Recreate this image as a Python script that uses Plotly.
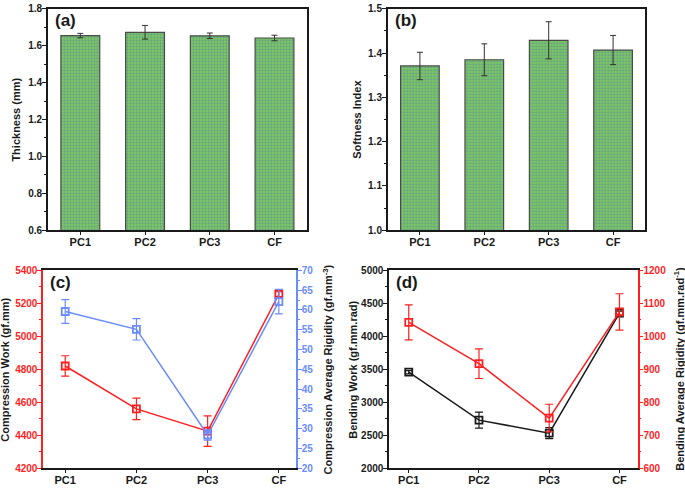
import plotly.graph_objects as go

samples = ['PC1', 'PC2', 'PC3', 'CF']

thickness = [1.655, 1.673, 1.654, 1.642]
thickness_err = [0.012, 0.037, 0.015, 0.015]

softness = [1.371, 1.385, 1.429, 1.407]
softness_err = [0.031, 0.036, 0.042, 0.033]

comp_work = [4820, 4560, 4425, 5255]
comp_work_err = [62, 65, 92, 15]
comp_rigidity = [59.6, 55.1, 28.4, 62.1]
comp_rigidity_err = [3.0, 2.7, 1.3, 3.1]

bend_work = [3456, 2729, 2532, 4351]
bend_work_err = [25, 122, 83, 30]
bend_rigidity = [1042, 917, 752, 1074]
bend_rigidity_err = [53, 45, 42, 55]

RED = '#ff1f1f'
BLUE = '#6b8cff'
BLACK = '#1a1a1a'
FONT = 'Liberation Sans'

fig = go.Figure()

bar_style = dict(
    marker=dict(color='#7cc85e', line=dict(color='#4a4a4a', width=1.2),
                pattern=dict(shape='.', fgcolor='#4466cc', size=3, solidity=0.35)),
    width=0.6,
)
fig.add_trace(go.Bar(x=samples, y=thickness, xaxis='x', yaxis='y',
                     error_y=dict(array=thickness_err, color='#333', thickness=1, width=3),
                     **bar_style))
fig.add_trace(go.Bar(x=samples, y=softness, xaxis='x2', yaxis='y2',
                     error_y=dict(array=softness_err, color='#333', thickness=1, width=3),
                     **bar_style))


def line_trace(y, err, color, xa, ya):
    return go.Scatter(x=samples, y=y, xaxis=xa, yaxis=ya, mode='lines+markers',
                      line=dict(color=color, width=1.5),
                      marker=dict(symbol='square-open', size=7, color=color, line=dict(width=1.8)),
                      error_y=dict(array=err, color=color, thickness=1.2, width=4))


fig.add_trace(line_trace(comp_work, comp_work_err, RED, 'x3', 'y3'))
fig.add_trace(line_trace(comp_rigidity, comp_rigidity_err, BLUE, 'x3', 'y5'))
fig.add_trace(line_trace(bend_work, bend_work_err, BLACK, 'x4', 'y4'))
fig.add_trace(line_trace(bend_rigidity, bend_rigidity_err, RED, 'x4', 'y6'))


def xax(domain, anchor, rng=None):
    d = dict(domain=domain, anchor=anchor, showline=True, linecolor=BLACK, linewidth=1.5,
             mirror=True, ticks='outside', ticklen=3, tickcolor=BLACK, ticklabelstandoff=-2,
             tickfont=dict(family=FONT, size=11, color=BLACK, weight='bold'),
             showgrid=False, zeroline=False)
    if rng:
        d['range'] = rng
    return d


def yax(domain, anchor, rng, dtick, color=BLACK, side='left', overlay=None, mirror=False):
    d = dict(domain=domain, anchor=anchor, range=rng, dtick=dtick, side=side,
             showline=True, linecolor=color, linewidth=1.5, mirror=mirror,
             ticks='outside', ticklen=4, tickcolor=color, ticklabelstandoff=-2,
             minor=dict(ticks='outside', ticklen=2, tickcolor=color, dtick=dtick / 2),
             tickfont=dict(family=FONT, size=10, color=color, weight='bold'),
             showgrid=False, zeroline=False)
    if overlay:
        d['overlaying'] = overlay
    return d


top_dom = [0.531, 0.994]
bot_dom = [0.033, 0.447]

fig.update_layout(
    width=685, height=490,
    margin=dict(l=0, r=0, t=0, b=0),
    paper_bgcolor='white', plot_bgcolor='white',
    showlegend=False, bargap=0.4,
    xaxis=xax([0.070, 0.448], 'y'),
    yaxis=dict(yax(top_dom, 'x', [0.6, 1.8], 0.2, mirror=True), tickformat='.1f'),
    xaxis2=xax([0.566, 0.942], 'y2'),
    yaxis2=dict(yax(top_dom, 'x2', [1.0, 1.5], 0.1, mirror=True), tickformat='.1f'),
    xaxis3=xax([0.063, 0.432], 'y3', [-0.31, 3.24]),
    yaxis3=yax(bot_dom, 'x3', [4200, 5400], 200, color=RED),
    yaxis5=yax(bot_dom, 'x3', [20, 70], 5, color=BLUE, side='right', overlay='y3'),
    xaxis4=xax([0.568, 0.931], 'y4', [-0.28, 3.26]),
    yaxis4=yax(bot_dom, 'x4', [2000, 5000], 500),
    yaxis6=yax(bot_dom, 'x4', [600, 1200], 100, color=RED, side='right', overlay='y4'),
)

for text, x, y in [('(a)', 0.077, 0.993), ('(b)', 0.573, 0.993),
                   ('(c)', 0.070, 0.445), ('(d)', 0.575, 0.445)]:
    fig.add_annotation(text='<b>' + text + '</b>', x=x, y=y, xref='paper', yref='paper',
                       xanchor='left', yanchor='top', showarrow=False,
                       font=dict(family=FONT, size=17, color=BLACK))

ytitles = [
    ('<b>Thickness (mm)</b>', 0.022, 0.7625),
    ('<b>Softness Index</b>', 0.520, 0.7625),
    ('<b>Compression Work (gf.mm)</b>', 0.008, 0.24),
    ('<b>Compression Average Rigidity (gf.mm<sup>-3</sup>)</b>', 0.479, 0.24),
    ('<b>Bending Work (gf.mm.rad)</b>', 0.516, 0.24),
    ('<b>Bending Average Rigidity (gf.mm.rad<sup>-1</sup>)</b>', 0.992, 0.24),
]
for text, x, y in ytitles:
    fig.add_annotation(text=text, x=x, y=y, xref='paper', yref='paper', textangle=-90,
                       xanchor='center', yanchor='middle', showarrow=False,
                       font=dict(family=FONT, size=11, color=BLACK))

# the page body has a default 8px margin; drop it so the figure sits at the corner
fig.write_html('out.html', config={'displayModeBar': False},
               post_script="document.body.style.margin='0';")
